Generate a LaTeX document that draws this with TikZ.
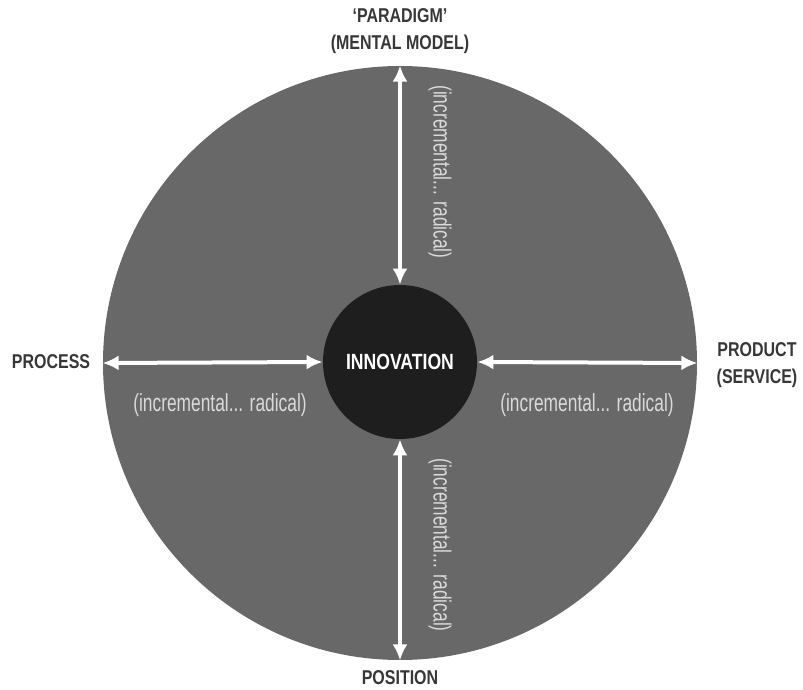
\documentclass[tikz,border=0pt]{standalone}
\usepackage{fontspec}
\setmainfont{Liberation Sans}[FakeStretch=0.8]
\newfontfamily\narrowfont{Liberation Sans}[FakeStretch=0.7]
\usetikzlibrary{arrows.meta}

\definecolor{wheel}{RGB}{104,104,104}
\definecolor{hub}{RGB}{30,30,30}
\definecolor{labelgray}{RGB}{55,55,55}
\definecolor{rangegray}{RGB}{218,218,218}

\begin{document}
\begin{tikzpicture}[x=0.5pt,y=0.5pt,
    dim/.style = {labelgray, font=\fontsize{10}{13.5}\selectfont\bfseries, align=center},
    scalelabel/.style = {rangegray, font=\narrowfont\fontsize{12.4}{13}\selectfont, inner sep=0pt},
    twoway/.style = {white, line width=2pt, {Latex[length=8pt,width=7.5pt]}-{Latex[length=8pt,width=7.5pt]}}]

            \useasboundingbox (-400,-327) rectangle (403,363);

            % the wheel and its hub
            \node[circle, fill=wheel, minimum size=297pt, inner sep=0pt] (wheel) at (0,0) {};
            \node[circle, fill=hub, minimum size=77pt, inner sep=0pt, text=white,
                  font=\fontsize{11}{12}\selectfont\bfseries] (hub) at (0,1) {INNOVATION};

            % the four dimensions
            \node[dim] (paradigm) at (0,332) {`PARADIGM'\\(MENTAL MODEL)};
            \node[dim] (process) at (-349,1) {PROCESS};
            \node[dim] (product) at (357,-2) {PRODUCT\\(SERVICE)};
            \node[dim] (position) at (0,-315) {POSITION};

            \draw[twoway] (wheel.north) -- (hub.north);
            \draw[twoway] (wheel.west) -- (hub.west);
            \draw[twoway] (wheel.east) -- (hub.east);
            \draw[twoway] (wheel.south) -- (hub.south);

            % incremental ... radical scales
            \node[scalelabel] (rangeW) at (-180,-42) {(incremental... radical)};
            \node[scalelabel] (rangeE) at (187,-42) {(incremental... radical)};
            \node[scalelabel, rotate=-90] (rangeN) at (40,191) {(incremental... radical)};
            \node[scalelabel, rotate=-90] (rangeS) at (40,-182) {(incremental... radical)};

\end{tikzpicture}
\end{document}
